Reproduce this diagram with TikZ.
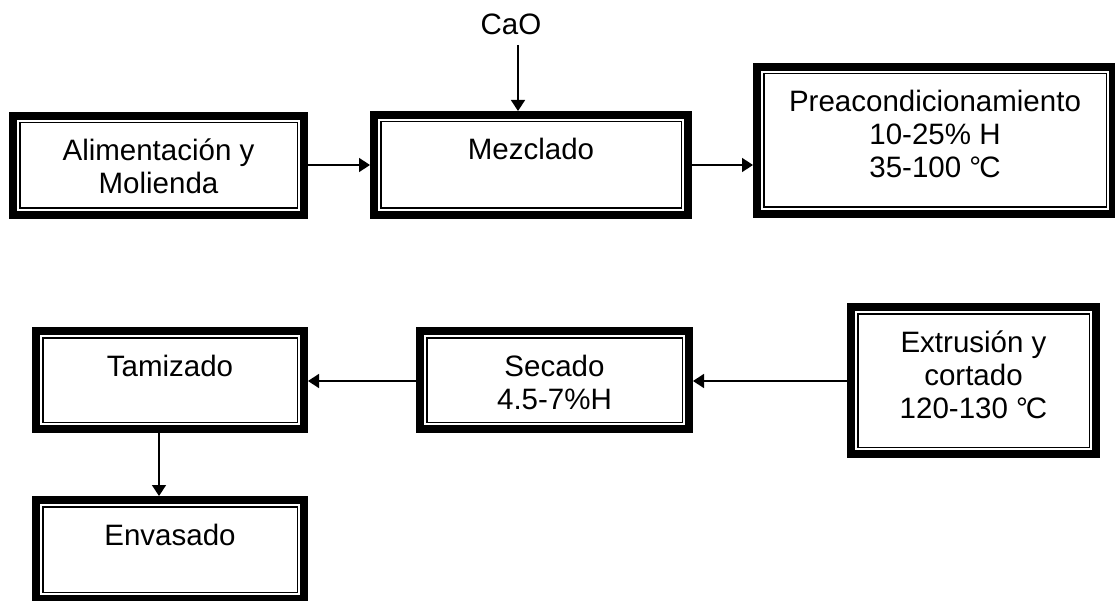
\documentclass[tikz,border=0pt]{standalone}
\usepackage{fontspec}
\usetikzlibrary{arrows.meta}
\newfontfamily\boxfont{Liberation Sans}
\newcommand\degC{°\kern-2pt C}
\newcommand\stepfont{\boxfont\fontsize{29.5}{33}\selectfont}
\tikzset{
  procbox/.style={draw, rectangle, line width=8pt, inner sep=0pt, outer sep=4pt},
  innerline/.style={draw, line width=1.5pt},
  arr/.style={line width=1.5pt, -{Triangle[length=11pt,width=14pt]}},
  lbl/.style={inner sep=0pt, font=\stepfont}
}
% #1 name, #2 left, #3 top, #4 right, #5 bottom (outer edges), #6 text
\newcommand\procstep[6]{%
  \pgfmathsetmacro\bw{#4-#2-8}%
  \pgfmathsetmacro\bh{#5-#3-8}%
  \node[procbox, minimum width=\bw pt, minimum height=\bh pt] (#1) at ({(#2+#4)/2},{(#3+#5)/2})
    {\parbox[c][\bh pt][t]{\bw pt}{\stepfont\centering
      \vspace*{18pt}\rule[-3pt]{0pt}{30pt}#6\par}};
  \draw[innerline] ([shift={(10.75,10.75)}]#1.north west) rectangle ([shift={(-10.75,-10.75)}]#1.south east);
}
\begin{document}
\begin{tikzpicture}[x=1pt, y=-1pt]
  \useasboundingbox (0,0) rectangle (1115,601);

  % first row
  \procstep{alim}{9}{112}{308}{219}{Alimentación y\\Molienda}
  \procstep{mezcl}{370}{111}{692}{219}{Mezclado}
  \procstep{preac}{753}{63}{1117}{218}{Preacondicionamiento\\10-25\% H\\35-100 \degC}

  % second row
  \procstep{tamiz}{32}{327}{308}{433}{Tamizado}
  \procstep{secado}{416}{327}{693}{433}{Secado\\4.5-7\%H}
  \procstep{extru}{847}{303}{1100}{458}{Extrusión y\\cortado\\120-130 \degC}
  \procstep{envas}{32}{496}{308}{603}{Envasado}

  % input of lime
  \node[lbl, anchor=base] (cao) at (511,35) {CaO};
  \coordinate (caoin) at (518,45);
  \draw[arr] (caoin) -- (caoin |- mezcl.north);

  % flow connectors
  \coordinate (row1) at (0,165);
  \coordinate (row2) at (0,381);
  \coordinate (col1) at (159,0);
  \draw[arr] (alim.east |- row1) -- (mezcl.west |- row1);
  \draw[arr] (mezcl.east |- row1) -- (preac.west |- row1);
  \draw[arr] (extru.west |- row2) -- (secado.east |- row2);
  \draw[arr] (secado.west |- row2) -- (tamiz.east |- row2);
  \draw[arr] (tamiz.south -| col1) -- (envas.north -| col1);
\end{tikzpicture}
\end{document}
